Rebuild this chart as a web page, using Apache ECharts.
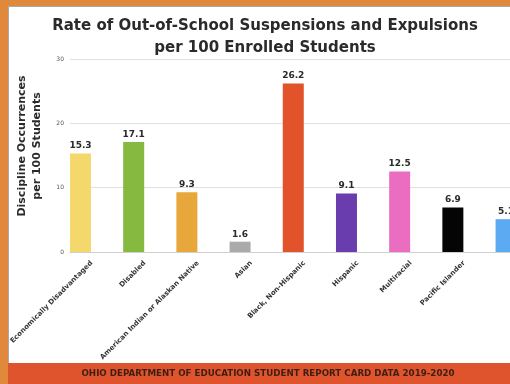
<!DOCTYPE html>
<html><head><meta charset="utf-8">
<script src="https://cdn.jsdelivr.net/npm/echarts@6/dist/echarts.min.js"></script>
<style>html,body{margin:0;padding:0;background:#fff}#c{width:510px;height:384px}</style>
</head><body><div id="c"></div>
<script>
const categories = ["Economically Disadvantaged","Disabled","American Indian or Alaskan Native","Asian","Black, Non-Hispanic","Hispanic","Multiracial","Pacific Islander","White, Non-Hispanic"];
const values = [15.3, 17.1, 9.3, 1.6, 26.2, 9.1, 12.5, 6.9, 5.1];
const barColors = ["#F5D86C","#86B940","#E8A73A","#AAAAAA","#E2532B","#6A3DAF","#EA6DC2","#050505","#5BAAF2"];
const yTicks = [0, 10, 20, 30];
const titleLines = ["Rate of Out-of-School Suspensions and Expulsions", "per 100 Enrolled Students"];
const yName = ["Discipline Occurrences", "per 100 Students"];
const footer = "OHIO DEPARTMENT OF EDUCATION STUDENT REPORT CARD DATA 2019-2020";

const chart = echarts.init(document.getElementById('c'));
const F = 'DejaVu Sans';
chart.setOption({
  animation: false,
  graphic: [
    {type:'rect', z:-10, shape:{x:0,y:0,width:510,height:384}, style:{fill:'#E0883B'}},
    {type:'rect', z:-9, shape:{x:8.5,y:6.5,width:520,height:358}, style:{fill:'#ffffff', stroke:'#a9a9a9', lineWidth:1}},
    {type:'rect', z:-8, shape:{x:8,y:363,width:510,height:21}, style:{fill:'#E0542D'}},
    {type:'text', z:5, style:{text:footer, x:268, y:374, align:'center', verticalAlign:'middle', fill:'#3b1f14', font:'bold 8.7px "DejaVu Sans"'}}
  ],
  title: {
    text: titleLines.join('\n'),
    left: 260, top: 10, textAlign: 'center',
    textStyle: {fontFamily: F, fontSize: 15, fontWeight: 'bold', color: '#2a2a2a', lineHeight: 22}
  },
  grid: {left: 70, right: 0, top: 59, bottom: 132},
  xAxis: {
    type: 'value', min: -0.197, max: 8.074,
    splitLine: {show: false},
    axisTick: {show: false},
    axisLine: {show: true, lineStyle: {color: '#cfcfcf', width: 1}},
    axisLabel: {
      customValues: categories.map((c, i) => i + 0.21),
      formatter: v => categories[Math.round(v)] || '',
      rotate: 45, margin: 10,
      fontFamily: F, fontSize: 7, fontWeight: 'bold', color: '#333'
    }
  },
  yAxis: {
    type: 'value', min: 0, max: 30, interval: 10,
    axisLine: {show: false}, axisTick: {show: false},
    splitLine: {lineStyle: {color: '#e0e0e0', width: 1}},
    axisLabel: {fontFamily: F, fontSize: 6, color: '#555', margin: 6, customValues: yTicks},
    name: yName.join('\n'), nameLocation: 'middle', nameGap: 25,
    nameTextStyle: {fontFamily: F, fontSize: 11, fontWeight: 'bold', color: '#2a2a2a', lineHeight: 15, padding: [0,0,0,19]}
  },
  series: [{
    type: 'bar', barWidth: 21,
    data: values.map((v, i) => ({value: [i, v], itemStyle: {color: barColors[i]}})),
    label: {show: true, position: 'top', distance: 3, fontFamily: F, fontSize: 9, fontWeight: 'bold', color: '#2a2a2a', formatter: p => p.value[1].toFixed(1)}
  }]
});
</script></body></html>
